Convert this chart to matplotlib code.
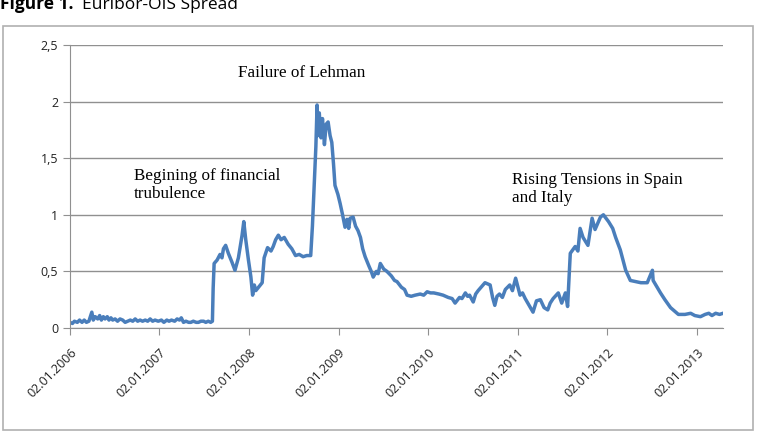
#Euribor-OIS spread chart
import matplotlib
matplotlib.use('Agg')
import matplotlib.pyplot as plt
import pandas as pd
from matplotlib.patches import Rectangle

#values (date, spread)
dates = [
    '2006-01-02', '2006-01-12', '2006-01-20', '2006-02-01', '2006-02-10', '2006-02-20',
    '2006-03-01', '2006-03-10', '2006-03-20', '2006-04-01', '2006-04-07', '2006-04-15',
    '2006-04-25', '2006-05-03', '2006-05-10', '2006-05-18', '2006-05-25', '2006-06-03',
    '2006-06-10', '2006-06-18', '2006-06-25', '2006-07-05', '2006-07-15', '2006-07-25',
    '2006-08-05', '2006-08-15', '2006-08-25', '2006-09-05', '2006-09-15', '2006-09-25',
    '2006-10-05', '2006-10-15', '2006-10-25', '2006-11-05', '2006-11-15', '2006-11-25',
    '2006-12-05', '2006-12-15', '2006-12-28', '2007-01-10', '2007-01-20', '2007-02-01',
    '2007-02-10', '2007-02-20', '2007-03-05', '2007-03-15', '2007-03-25', '2007-04-01',
    '2007-04-10', '2007-04-20', '2007-05-01', '2007-05-10', '2007-05-20', '2007-06-01',
    '2007-06-10', '2007-06-20', '2007-07-01', '2007-07-10', '2007-07-20', '2007-07-30',
    '2007-08-06', '2007-08-09', '2007-08-13', '2007-08-25', '2007-09-06', '2007-09-14',
    '2007-09-20', '2007-09-29', '2007-10-10', '2007-10-25', '2007-11-06', '2007-11-20',
    '2007-12-05', '2007-12-12', '2007-12-20', '2007-12-31', '2008-01-10', '2008-01-17',
    '2008-01-24', '2008-01-30', '2008-02-10', '2008-02-25', '2008-03-04', '2008-03-18',
    '2008-04-01', '2008-04-10', '2008-04-20', '2008-05-01', '2008-05-12', '2008-05-25',
    '2008-06-10', '2008-06-25', '2008-07-10', '2008-07-25', '2008-08-10', '2008-08-25',
    '2008-09-10', '2008-09-17', '2008-09-25', '2008-10-01', '2008-10-06', '2008-10-10',
    '2008-10-15', '2008-10-22', '2008-10-28', '2008-11-05', '2008-11-12', '2008-11-20',
    '2008-11-28', '2008-12-05', '2008-12-12', '2008-12-18', '2008-12-30', '2009-01-08',
    '2009-01-18', '2009-01-28', '2009-02-05', '2009-02-12', '2009-02-18', '2009-03-02',
    '2009-03-12', '2009-03-22', '2009-04-01', '2009-04-10', '2009-04-20', '2009-05-05',
    '2009-05-15', '2009-05-23', '2009-06-05', '2009-06-12', '2009-06-21', '2009-07-05',
    '2009-07-18', '2009-08-05', '2009-08-18', '2009-08-28', '2009-09-15', '2009-09-28',
    '2009-10-08', '2009-10-25', '2009-11-10', '2009-12-01', '2009-12-15', '2009-12-29',
    '2010-01-12', '2010-01-25', '2010-02-15', '2010-03-04', '2010-03-25', '2010-04-10',
    '2010-04-22', '2010-05-10', '2010-05-20', '2010-06-03', '2010-06-12', '2010-06-20',
    '2010-07-05', '2010-07-15', '2010-07-25', '2010-08-10', '2010-08-22', '2010-09-12',
    '2010-09-22', '2010-10-01', '2010-10-10', '2010-10-20', '2010-11-01', '2010-11-13',
    '2010-12-01', '2010-12-12', '2010-12-25', '2011-01-12', '2011-01-22', '2011-02-02',
    '2011-02-18', '2011-03-06', '2011-03-20', '2011-04-05', '2011-04-20', '2011-05-05',
    '2011-05-15', '2011-05-27', '2011-06-17', '2011-07-01', '2011-07-16', '2011-07-25',
    '2011-08-05', '2011-08-25', '2011-09-05', '2011-09-14', '2011-09-26', '2011-10-16',
    '2011-11-02', '2011-11-14', '2011-12-06', '2011-12-18', '2012-01-08', '2012-01-25',
    '2012-02-06', '2012-02-25', '2012-03-18', '2012-04-06', '2012-05-19', '2012-06-14',
    '2012-07-05', '2012-07-08', '2012-08-07', '2012-08-25', '2012-09-17', '2012-10-19',
    '2012-11-15', '2012-12-08', '2012-12-25', '2013-01-17', '2013-02-05', '2013-02-20',
    '2013-03-05', '2013-03-20', '2013-04-05', '2013-04-19',
]
spread = [
    0.05, 0.04, 0.06, 0.05, 0.07, 0.05,
    0.07, 0.05, 0.06, 0.14, 0.07, 0.10,
    0.08, 0.11, 0.07, 0.10, 0.08, 0.10,
    0.07, 0.09, 0.07, 0.08, 0.06, 0.08,
    0.07, 0.05, 0.06, 0.07, 0.06, 0.08,
    0.06, 0.07, 0.06, 0.07, 0.06, 0.08,
    0.06, 0.07, 0.06, 0.07, 0.05, 0.07,
    0.06, 0.07, 0.06, 0.08, 0.07, 0.09,
    0.05, 0.06, 0.05, 0.05, 0.06, 0.05,
    0.05, 0.06, 0.06, 0.05, 0.06, 0.05,
    0.06, 0.35, 0.57, 0.60, 0.65, 0.62,
    0.70, 0.73, 0.66, 0.58, 0.51, 0.62,
    0.82, 0.94, 0.78, 0.60, 0.45, 0.29,
    0.38, 0.33, 0.36, 0.40, 0.62, 0.71,
    0.68, 0.72, 0.78, 0.82, 0.78, 0.80,
    0.74, 0.70, 0.64, 0.65, 0.63, 0.64,
    0.64, 0.90, 1.30, 1.60, 1.97, 1.70,
    1.90, 1.68, 1.85, 1.62, 1.80, 1.82,
    1.70, 1.64, 1.45, 1.26, 1.18, 1.10,
    1.00, 0.89, 0.96, 0.88, 0.97, 0.98,
    0.90, 0.86, 0.80, 0.70, 0.63, 0.55,
    0.50, 0.45, 0.50, 0.48, 0.57, 0.52,
    0.50, 0.46, 0.42, 0.41, 0.36, 0.34,
    0.29, 0.28, 0.29, 0.30, 0.29, 0.32,
    0.31, 0.31, 0.30, 0.29, 0.27, 0.26,
    0.22, 0.27, 0.26, 0.31, 0.28, 0.29,
    0.23, 0.30, 0.33, 0.37, 0.40, 0.38,
    0.27, 0.20, 0.28, 0.30, 0.27, 0.34,
    0.38, 0.33, 0.44, 0.29, 0.31, 0.26,
    0.20, 0.14, 0.24, 0.25, 0.18, 0.16,
    0.22, 0.26, 0.31, 0.22, 0.31, 0.19,
    0.66, 0.72, 0.68, 0.88, 0.80, 0.73,
    0.97, 0.87, 0.98, 1.00, 0.94, 0.88,
    0.80, 0.69, 0.51, 0.42, 0.40, 0.40,
    0.51, 0.42, 0.31, 0.25, 0.18, 0.12,
    0.12, 0.13, 0.11, 0.10, 0.12, 0.13,
    0.11, 0.13, 0.12, 0.13,
]
y_ticks = [0, 0.5, 1, 1.5, 2, 2.5]
y_tick_labels = ['0', '0,5', '1', '1,5', '2', '2,5']
x_tick_years = [2006, 2007, 2008, 2009, 2010, 2011, 2012, 2013]

x = pd.to_datetime(dates)
line_blue = '#4a7ebb'
grid_grey = '#909090'

fig = plt.figure(figsize=(7.58, 4.36), dpi=100)
W, H = 758, 436

#outer chart frame like excel
fig.patches.append(Rectangle((3 / W, 1 - 430 / H), 750 / W, 404 / H, transform=fig.transFigure,
                             fill=False, edgecolor='#b0b0b0', linewidth=1.2))

#title, top half cut off as in the picture
fig.text(0 / W, 1 - 9 / H, 'Figure 1.', fontsize=12.5, fontweight='bold', family='Open Sans',
         va='baseline', ha='left')
fig.text(82 / W, 1 - 9 / H, 'Euribor-OIS Spread', fontsize=12.5, family='Open Sans',
         va='baseline', ha='left')

ax = fig.add_axes([70 / W, 1 - 328 / H, 653 / W, 283 / H])
ax.plot(x, spread, color=line_blue, linewidth=2.5, solid_joinstyle='round')

ax.set_ylim(0, 2.5)
ax.set_xlim(x[0], x[-1])
ax.set_yticks(y_ticks)
ax.set_yticklabels(y_tick_labels, family='Open Sans', fontsize=9, color='#222222')
ax.yaxis.grid(True, color=grid_grey, linewidth=1)
ax.set_axisbelow(True)

xt = [pd.Timestamp(f'{yr}-01-02') for yr in x_tick_years]
ax.set_xticks(xt)
ax.set_xticklabels([t.strftime('%d.%m.%Y') for t in xt], rotation=45, ha='right',
                   rotation_mode='anchor', family='Open Sans', fontsize=9, color='#222222')

for s in ['top', 'right']:
    ax.spines[s].set_visible(False)
for s in ['left', 'bottom']:
    ax.spines[s].set_color(grid_grey)
ax.tick_params(axis='both', direction='out', color=grid_grey, length=5)
ax.tick_params(axis='x', pad=8)

#annotations in serif font
ax.text((302 - 70) / 653, (328 - 73) / 283, 'Failure of Lehman', transform=ax.transAxes,
        family='Liberation Serif', fontsize=12.3, ha='center', va='center')
ax.text((134 - 70) / 653, (328 - 185) / 283, 'Begining of financial\ntrubulence',
        transform=ax.transAxes, family='Liberation Serif', fontsize=12.3, ha='left',
        va='center', linespacing=1.15)
ax.text((512 - 70) / 653, (328 - 189) / 283, 'Rising Tensions in Spain\nand Italy',
        transform=ax.transAxes, family='Liberation Serif', fontsize=12.3, ha='left',
        va='center', linespacing=1.15)

plt.savefig('out.png', dpi=100)
